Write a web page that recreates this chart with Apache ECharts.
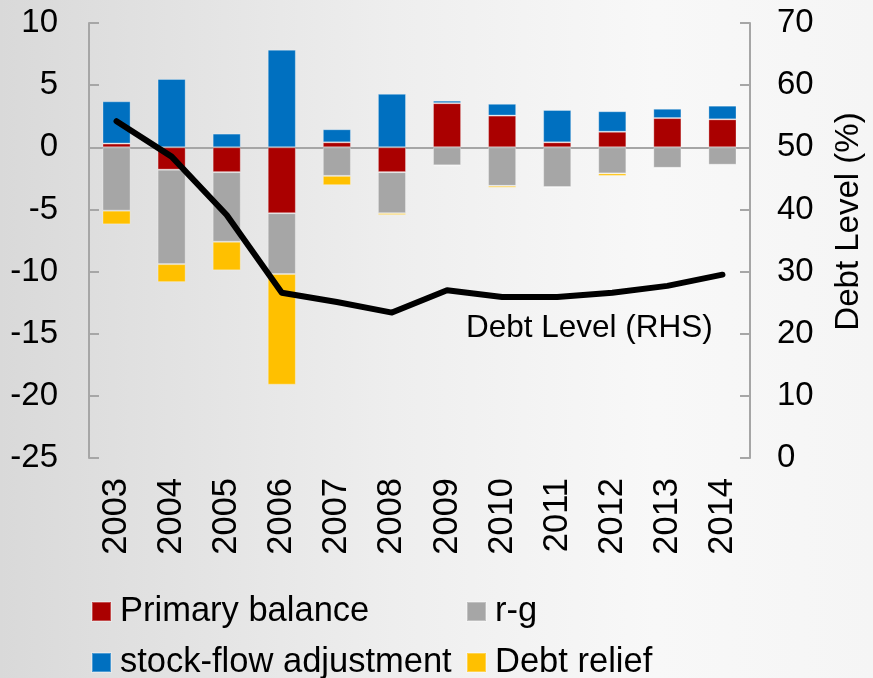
<!DOCTYPE html>
<html>
<head>
<meta charset="utf-8">
<title>Debt dynamics</title>
<script src="https://cdn.jsdelivr.net/npm/echarts@6/dist/echarts.min.js"></script>
<style>
  html, body { margin: 0; padding: 0; }
  #chart { width: 873px; height: 678px; }
</style>
</head>
<body>
<div id="chart"></div>
<script>
// Contributions to change in debt (% of GDP), left axis
const years = ['2003', '2004', '2005', '2006', '2007', '2008', '2009', '2010', '2011', '2012', '2013', '2014'];
const primaryBalance = [0.3, -1.8, -2.0, -5.3, 0.4, -2.0, 3.55, 2.55, 0.4, 1.25, 2.35, 2.25];
const rMinusG = [-5.1, -7.6, -5.6, -4.9, -2.3, -3.3, -1.45, -3.1, -3.2, -2.1, -1.65, -1.4];
const stockFlow = [3.4, 5.5, 1.1, 7.85, 1.05, 4.3, 0.2, 0.95, 2.6, 1.65, 0.75, 1.1];
const debtRelief = [-1.1, -1.45, -2.3, -8.9, -0.75, -0.15, -0.08, -0.15, -0.05, -0.2, -0.05, 0];
// Debt level (% of GDP), right axis
const debtLevel = [54.2, 48.5, 39.1, 26.6, 25.1, 23.4, 27.0, 25.9, 25.9, 26.6, 27.7, 29.5];

const FONT = "'Liberation Sans', Arial, sans-serif";
const FONT_SIZE = 33;
const AXIS_GREY = '#a6a6a6';

const chart = echarts.init(document.getElementById('chart'));

function barSeries(name, data, color) {
  return {
    name: name,
    type: 'bar',
    stack: 'contrib',
    data: data,
    barWidth: '51%',
    itemStyle: { color: color, borderColor: 'rgba(255,255,255,0.3)', borderWidth: 1 },
    emphasis: { disabled: true }
  };
}

function legendItem(name, left, top) {
  return {
    data: [name],
    left: left,
    top: top,
    padding: 0,
    icon: 'rect',
    itemWidth: 19,
    itemHeight: 19,
    selectedMode: false,
    textStyle: { fontFamily: FONT, fontSize: 34.5, color: '#000', padding: [0, 0, 0, 4] }
  };
}

chart.setOption({
  backgroundColor: {
    type: 'linear', x: 0, y: 0, x2: 1, y2: 0,
    colorStops: [
      { offset: 0, color: '#d9d9d9' },
      { offset: 0.45, color: '#eeeeee' },
      { offset: 0.75, color: '#f8f8f8' },
      { offset: 1, color: '#f5f5f5' }
    ]
  },
  animation: false,
  textStyle: { fontFamily: FONT },
  grid: { left: 89, right: 119, top: 23, bottom: 220, containLabel: false },
  legend: [
    legendItem('Primary balance', 91, 594),
    legendItem('r-g', 466, 594),
    legendItem('stock-flow adjustment', 91, 645),
    legendItem('Debt relief', 466, 645)
  ],
  xAxis: {
    type: 'category',
    data: years,
    axisLine: { lineStyle: { color: AXIS_GREY, width: 2 } },
    axisTick: { inside: true, length: 8, lineStyle: { color: AXIS_GREY, width: 1.5 } },
    axisLabel: { rotate: 90, margin: 20, fontSize: 34.5, color: '#000', fontFamily: FONT }
  },
  yAxis: [
    {
      type: 'value',
      min: -25, max: 10, interval: 5,
      splitLine: { show: false },
      axisLine: { show: true, lineStyle: { color: AXIS_GREY, width: 2 } },
      axisTick: { show: true, inside: true, length: 10, lineStyle: { color: AXIS_GREY, width: 2 } },
      axisLabel: { margin: 31, fontSize: FONT_SIZE, color: '#000', fontFamily: FONT }
    },
    {
      type: 'value',
      min: 0, max: 70, interval: 10,
      position: 'right',
      splitLine: { show: false },
      axisLine: { show: true, lineStyle: { color: AXIS_GREY, width: 2 } },
      axisTick: { show: true, inside: true, length: 10, lineStyle: { color: AXIS_GREY, width: 2 } },
      axisLabel: { margin: 27, fontSize: FONT_SIZE, color: '#000', fontFamily: FONT },
      name: 'Debt Level (%)',
      nameLocation: 'middle',
      nameRotate: 90,
      nameGap: 82,
      nameTextStyle: { fontSize: FONT_SIZE, color: '#000', fontFamily: FONT, padding: [0, 0, 0, 38] }
    }
  ],
  graphic: [
    {
      type: 'text',
      left: 466,
      top: 312,
      style: { text: 'Debt Level (RHS)', font: "31.5px 'Liberation Sans', Arial, sans-serif", fill: '#000' }
    }
  ],
  series: [
    barSeries('Primary balance', primaryBalance, '#aa0000'),
    barSeries('r-g', rMinusG, '#a6a6a6'),
    barSeries('stock-flow adjustment', stockFlow, '#0070c0'),
    barSeries('Debt relief', debtRelief, '#ffc000'),
    {
      name: 'Debt Level',
      type: 'line',
      yAxisIndex: 1,
      data: debtLevel,
      symbol: 'none',
      z: 5,
      lineStyle: { color: '#000', width: 6, cap: 'round', join: 'round' },
      emphasis: { disabled: true }
    }
  ]
});
</script>
</body>
</html>
